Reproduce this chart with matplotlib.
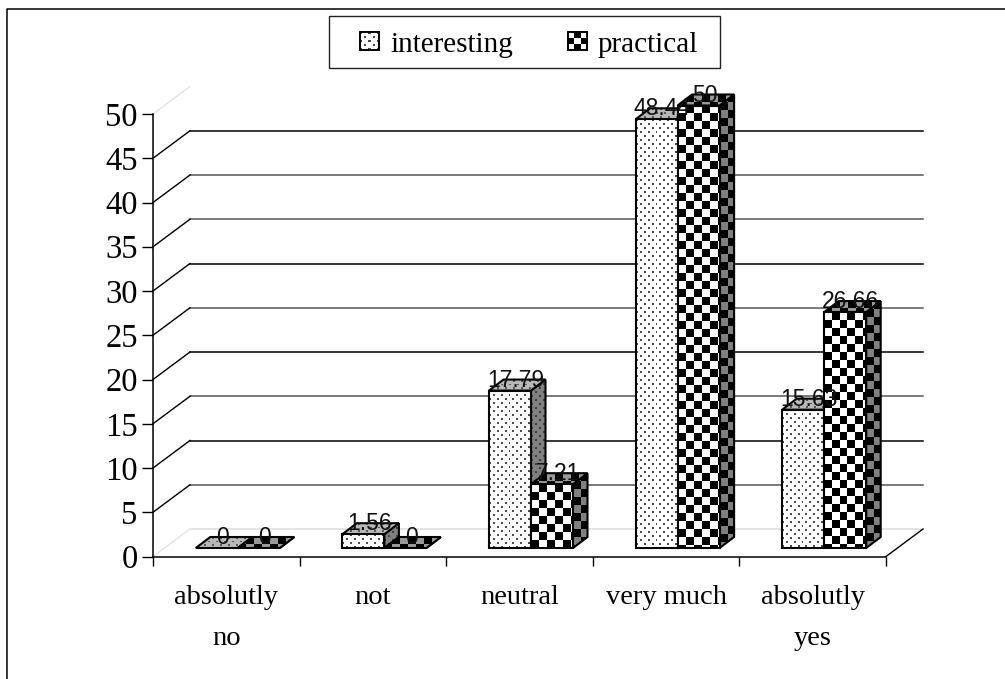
#!/usr/bin/env python
import numpy as np
import matplotlib as mpl
mpl.use('Agg')
import matplotlib.pyplot as plt
from matplotlib.patches import Polygon, Rectangle

categories = ['absolutly\nno', 'not', 'neutral', 'very much', 'absolutly\nyes']
interesting = [0, 1.56, 17.79, 48.44, 15.63]
practical = [0, 0, 7.21, 50, 26.66]
interesting_labels = ['0', '1.56', '17.79', '48.44', '15.63']
practical_labels = ['0', '0', '7.21', '50', '26.66']
yticks = [0, 5, 10, 15, 20, 25, 30, 35, 40, 45, 50]
grid_colors = ['#dddddd', '#555555', 'black', '#555555', 'black', '#555555',
               'black', '#555555', '#555555', 'black', None]

W, H = 1005, 679
X0, X1, Y0, Y50 = 153., 886., 556.5, 114.
PX = (X1 - X0) / 5.      # px per category
PY = (Y0 - Y50) / 50.    # px per unit
YMAX = 60                # room above 50 so the bar tops are not cut

# depth of the back wall and of the bars, in pixels
WALL_DX, WALL_DY = 37 / PX, 27.5 / PY
BAR_X, BAR_Y = 11.5 / PX, 8.5 / PY
DEPTH_X, DEPTH_Y = 14.5 / PX, 11 / PY
BAR_W = 42 / PX
EDGE = 1.5


def texture(kind, w, h, fg, bg, cell=8):
    # small pixel tile, dots or checker
    w, h = max(int(w), 1), max(int(h), 1)
    yy, xx = np.indices((h, w))
    if kind == 'dots':
        tile = np.full((h, w), float(bg))
        row = yy // 4
        on = (yy % 4 < 2) & ((xx + 4 * (row % 2)) % 8 < 2)
        tile[on] = fg
    else:
        tile = np.where((xx // cell + yy // cell) % 2 == 0, bg, fg).astype(float)
    return tile


def face(ax, pts, kind, fg, bg, z, cell=8):
    pts = np.array(pts)
    x0, x1 = pts[:, 0].min(), pts[:, 0].max()
    y0, y1 = pts[:, 1].min(), pts[:, 1].max()
    if y1 > y0:
        tile = texture(kind, (x1 - x0) * PX + 1, (y1 - y0) * PY + 1, fg, bg, cell)
        im = ax.imshow(tile, extent=(x0, x1, y0, y1), cmap='gray', vmin=0, vmax=1,
                       aspect='auto', interpolation='nearest', zorder=z)
        clip = Polygon(pts, closed=True, transform=ax.transData)
        im.set_clip_path(clip)
    ax.add_patch(Polygon(pts, closed=True, fill=False, ec='black', lw=EDGE,
                         clip_on=False, zorder=z + 0.1, joinstyle='miter'))


def bar3d(ax, left, val, kind, z):
    x0, x1 = left, left + BAR_W
    y0, y1 = BAR_Y, BAR_Y + val
    if kind == 'dots':
        top, side = (0.35, 0.72), (0.25, 0.5)
    else:
        top, side = (0.0, 0.6), (0.0, 0.5)
    # side, top then front
    face(ax, [(x1, y0), (x1 + DEPTH_X, y0 + DEPTH_Y), (x1 + DEPTH_X, y1 + DEPTH_Y), (x1, y1)],
         kind, side[0], side[1], z)
    face(ax, [(x0, y1), (x1, y1), (x1 + DEPTH_X, y1 + DEPTH_Y), (x0 + DEPTH_X, y1 + DEPTH_Y)],
         kind, top[0], top[1], z + 0.2)
    if val > 0:
        face(ax, [(x0, y0), (x1, y0), (x1, y1), (x0, y1)], kind, 0.3 if kind == 'dots' else 0.0,
             1.0, z + 0.4)


def main():
    fig = plt.figure(figsize=(W / 100., H / 100.), dpi=100)
    fig.patch.set_facecolor('white')

    # outer frame and legend, in pixels
    lax = fig.add_axes([0, 0, 1, 1])
    lax.set_xlim(0, W)
    lax.set_ylim(H, 0)
    lax.axis('off')
    lax.plot([7, 7, W], [H, 9, 9], color='black', lw=1.1)
    lax.add_patch(Rectangle((329, 15.5), 391, 52, fc='white', ec='#222222', lw=1.0))
    for x, kind, cell, name in [(360, 'dots', 8, 'interesting'), (568, 'check', 6, 'practical')]:
        fg = 0.3 if kind == 'dots' else 0.0
        lax.imshow(texture(kind, 18, 18, fg, 1.0, cell), extent=(x, x + 19, 50, 32), cmap='gray',
                   vmin=0, vmax=1, aspect='auto', interpolation='nearest', zorder=3)
        lax.add_patch(Rectangle((x, 32), 19, 18, fill=False, ec='black', lw=1.4, zorder=4))
        lax.text(x + 30, 52, name, family='Liberation Serif', fontsize=21, va='baseline', ha='left')
    lax.set_xlim(0, W)
    lax.set_ylim(H, 0)

    ytop = Y0 - YMAX * PY
    ax = fig.add_axes([X0 / W, (H - Y0) / H, (X1 - X0) / W, (Y0 - ytop) / H])
    ax.patch.set_alpha(0)

    # walls
    for t, c in zip(yticks, grid_colors):
        if c is not None:
            ax.plot([WALL_DX, 5 + WALL_DX], [t + WALL_DY] * 2, color=c, lw=1.1, clip_on=False, zorder=1)
        diag = 'black' if 0 < t < 50 else '#e4e4e4'
        ax.plot([0, WALL_DX], [t, t + WALL_DY], color=diag, lw=1.0, clip_on=False, zorder=1)
    ax.plot([5, 5 + WALL_DX], [0, WALL_DY], color='black', lw=1.0, clip_on=False, zorder=1)

    # bars and their labels
    z = 2
    for i in range(len(categories)):
        left = i + 0.5 + BAR_X - BAR_W
        bar3d(ax, left, interesting[i], 'dots', z)
        bar3d(ax, left + BAR_W, practical[i], 'check', z + 1)
        z += 2
    label_dy = BAR_Y + 4 / PY
    shift = -1.5 / PX
    for i in range(len(categories)):
        left = i + 0.5 + BAR_X - BAR_W
        for xx, v, s in [(left, interesting[i], interesting_labels[i]),
                         (left + BAR_W, practical[i], practical_labels[i])]:
            ax.text(xx + BAR_W / 2. + DEPTH_X / 2. + shift, v + label_dy, s, family='Liberation Sans',
                    fontsize=16.5, color='#111111', ha='center', va='baseline', zorder=50)

    ax.set_xlim(0, 5)
    ax.set_ylim(0, YMAX)
    for s in ['top', 'right']:
        ax.spines[s].set_visible(False)
    for s in ['left', 'bottom']:
        ax.spines[s].set_linewidth(1.1)
        ax.spines[s].set_zorder(40)
    ax.spines['left'].set_bounds(0, 50)

    ax.set_yticks(yticks)
    ax.set_yticklabels([str(t) for t in yticks], family='Liberation Serif', fontsize=23.5)
    ax.tick_params(axis='y', length=8, width=1.0, pad=3)
    ax.set_xticks(range(6))
    ax.set_xticklabels([])
    ax.tick_params(axis='x', length=6.5, width=1.0)
    ax.set_xticks(np.arange(5) + 0.5, minor=True)
    ax.set_xticklabels(categories, minor=True, family='Liberation Serif', fontsize=20.5,
                       linespacing=1.85)
    ax.tick_params(axis='x', which='minor', length=0, pad=20.5)

    fig.savefig('out.png', dpi=100)


main()
